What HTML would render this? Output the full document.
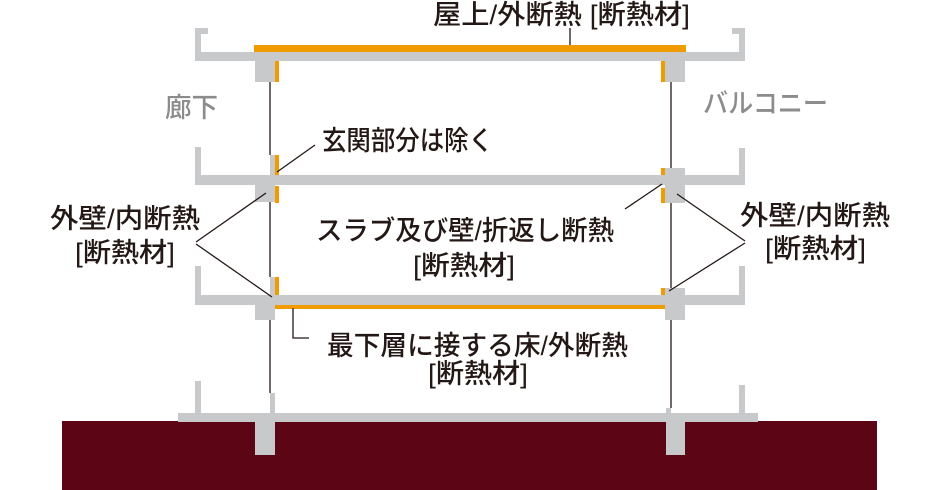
<!DOCTYPE html>
<html><head><meta charset="utf-8"><style>
html,body{margin:0;padding:0;background:#fff;}
svg{display:block;}
text{font-family:"Liberation Sans","Noto Sans CJK JP",sans-serif;font-size:27px;fill:#231815;font-weight:500;}
.g{fill:#8c8c8c;}
</style></head><body>
<svg width="940" height="490" viewBox="0 0 940 490" xmlns="http://www.w3.org/2000/svg">
<g fill="#c8c9cb">
<rect x="195" y="52" width="550" height="9"/>
<rect x="195" y="28" width="6" height="30"/>
<rect x="195" y="28" width="13" height="6"/>
<rect x="739" y="28" width="6" height="30"/>
<rect x="732" y="28" width="13" height="6"/>
<rect x="255" y="61" width="20" height="21"/>
<rect x="665" y="61" width="20" height="21"/>
<rect x="195" y="175" width="550" height="10"/>
<rect x="195" y="147" width="6" height="35"/>
<rect x="739" y="148" width="6" height="35"/>
<rect x="270" y="155" width="5" height="20"/>
<rect x="255" y="185" width="20" height="17"/>
<rect x="665" y="168" width="20" height="35"/>
<rect x="195" y="295" width="550" height="10"/>
<rect x="195" y="266" width="6" height="35"/>
<rect x="739" y="266" width="6" height="35"/>
<rect x="270" y="277" width="5" height="18"/>
<rect x="255" y="305" width="20" height="15"/>
<rect x="665" y="288" width="20" height="7"/>
<rect x="665" y="305" width="20" height="15"/>
<rect x="195" y="381" width="6" height="34"/>
<rect x="739" y="385" width="6" height="30"/>
<rect x="270" y="393" width="5" height="22"/>
<rect x="666" y="408" width="5" height="7"/>
</g>
<rect x="62" y="421" width="815" height="69" fill="#5c0615"/>
<g fill="#c8c9cb">
<rect x="178" y="413" width="580" height="9"/>
<rect x="255" y="413" width="20" height="42"/>
<rect x="666" y="413" width="19" height="42"/>
</g>
<g fill="#f09c00">
<rect x="254" y="45" width="432" height="7"/>
<rect x="275" y="61" width="4" height="21"/>
<rect x="661" y="61" width="4" height="21"/>
<rect x="275" y="155" width="4" height="20"/>
<rect x="275" y="186" width="4" height="17"/>
<rect x="661" y="168" width="4" height="7"/>
<rect x="661" y="188" width="4" height="15"/>
<rect x="275" y="277" width="4" height="18"/>
<rect x="661" y="288" width="4" height="7"/>
<rect x="275" y="305" width="390" height="4"/>
</g>
<g stroke="#231815" stroke-width="1.3" fill="none">
<line x1="270" y1="82" x2="270" y2="155"/>
<line x1="270" y1="202" x2="270" y2="277"/>
<line x1="270" y1="320" x2="270" y2="393"/>
<line x1="671" y1="82" x2="671" y2="168"/>
<line x1="671" y1="203" x2="671" y2="288"/>
<line x1="671" y1="320" x2="671" y2="408"/>
<line x1="570" y1="28" x2="570" y2="45"/>
<line x1="315" y1="145" x2="277" y2="172"/>
<line x1="196" y1="242" x2="266" y2="193"/>
<line x1="196" y1="244" x2="272" y2="297"/>
<line x1="745" y1="241" x2="677" y2="194"/>
<line x1="745" y1="243" x2="669" y2="291"/>
<line x1="625" y1="209" x2="662" y2="184"/>
<polyline points="293,308 293,338 309,338"/>
</g>
<text x="433" y="24" textLength="257" lengthAdjust="spacingAndGlyphs">屋上/外断熱 [断熱材]</text>
<text class="g" x="165" y="117" textLength="53" lengthAdjust="spacingAndGlyphs">廊下</text>
<text class="g" x="703" y="113" textLength="125" lengthAdjust="spacingAndGlyphs">バルコニー</text>
<text x="322" y="150" textLength="171" lengthAdjust="spacingAndGlyphs">玄関部分は除く</text>
<text x="50" y="228" textLength="150" lengthAdjust="spacingAndGlyphs">外壁/内断熱</text>
<text x="75" y="262" textLength="100" lengthAdjust="spacingAndGlyphs">[断熱材]</text>
<text x="740" y="225" textLength="150" lengthAdjust="spacingAndGlyphs">外壁/内断熱</text>
<text x="765" y="258" textLength="101" lengthAdjust="spacingAndGlyphs">[断熱材]</text>
<text x="316" y="240" textLength="298" lengthAdjust="spacingAndGlyphs">スラブ及び壁/折返し断熱</text>
<text x="413" y="275" textLength="102" lengthAdjust="spacingAndGlyphs">[断熱材]</text>
<text x="327" y="355" textLength="301" lengthAdjust="spacingAndGlyphs">最下層に接する床/外断熱</text>
<text x="428" y="383" textLength="100" lengthAdjust="spacingAndGlyphs">[断熱材]</text>
</svg>
</body></html>
